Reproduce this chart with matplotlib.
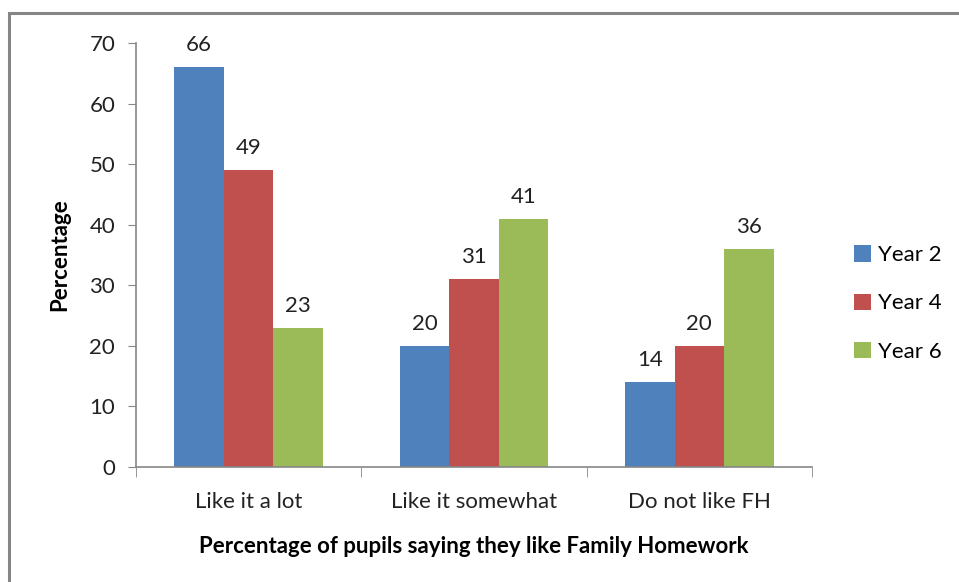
import numpy as np
import matplotlib
matplotlib.use("Agg")
import matplotlib.pyplot as plt
from matplotlib.patches import Rectangle

# data
categories = ["Like it a lot", "Like it somewhat", "Do not like FH"]
series_names = ["Year 2", "Year 4", "Year 6"]
year2 = [66, 20, 14]
year4 = [49, 31, 20]
year6 = [23, 41, 36]
yticks = [0, 10, 20, 30, 40, 50, 60, 70]

colors = ["#4F81BD", "#C0504D", "#9BBB59"]
plt.rcParams['font.family'] = ['Lato', 'DejaVu Sans']
FS = 16

fig = plt.figure(figsize=(9.59, 5.82), dpi=100)
# chart frame (only top/left visible in the crop)
fig.patches.append(Rectangle((9/959, -0.1), 1.2, 1 - 13/582 + 0.1, transform=fig.transFigure,
                             fill=False, edgecolor="#868686", linewidth=2.2))

ax = fig.add_axes([136/959, 115/582, 676/959, 424/582])
x = np.arange(len(categories))
w = 0.22
for i, vals in enumerate([year2, year4, year6]):
    pos = x + (i - 1) * w
    ax.bar(pos, vals, width=w, color=colors[i], label=series_names[i], linewidth=0)
    for xb, v in zip(pos, vals):
        ax.text(xb, v + 2.0, str(v), ha="center", va="bottom", fontsize=FS, color="#222222")

ax.set_xlim(-0.5, 2.5)
ax.set_ylim(0, 70)
ax.set_yticks(yticks)
ax.tick_params(axis="y", labelsize=FS, length=6, color="#868686", pad=9, labelcolor="#222222")
ax.set_xticks(x)
ax.set_xticklabels(categories)
ax.tick_params(axis="x", length=0, labelsize=FS, pad=18, labelcolor="#222222")
# category boundary ticks
ax.set_xticks([-0.5, 0.5, 1.5, 2.5], minor=True)
ax.tick_params(axis="x", which="minor", length=7, color="#868686")
for s in ["top", "right"]:
    ax.spines[s].set_visible(False)
for s in ["left", "bottom"]:
    ax.spines[s].set_color("#868686")
    ax.spines[s].set_linewidth(1.2)

ax.set_ylabel("Percentage", fontsize=FS, fontweight="bold", labelpad=14)
ax.set_xlabel("Percentage of pupils saying they like Family Homework", fontsize=FS,
              fontweight="bold", labelpad=17)

leg = ax.legend(loc="upper left", bbox_to_anchor=(1.062, 0.523), frameon=False,
                fontsize=FS, handlelength=0.75, handleheight=0.75, handletextpad=0.35,
                labelspacing=1.27, borderaxespad=0, borderpad=0)

fig.savefig("out.png", dpi=100)
